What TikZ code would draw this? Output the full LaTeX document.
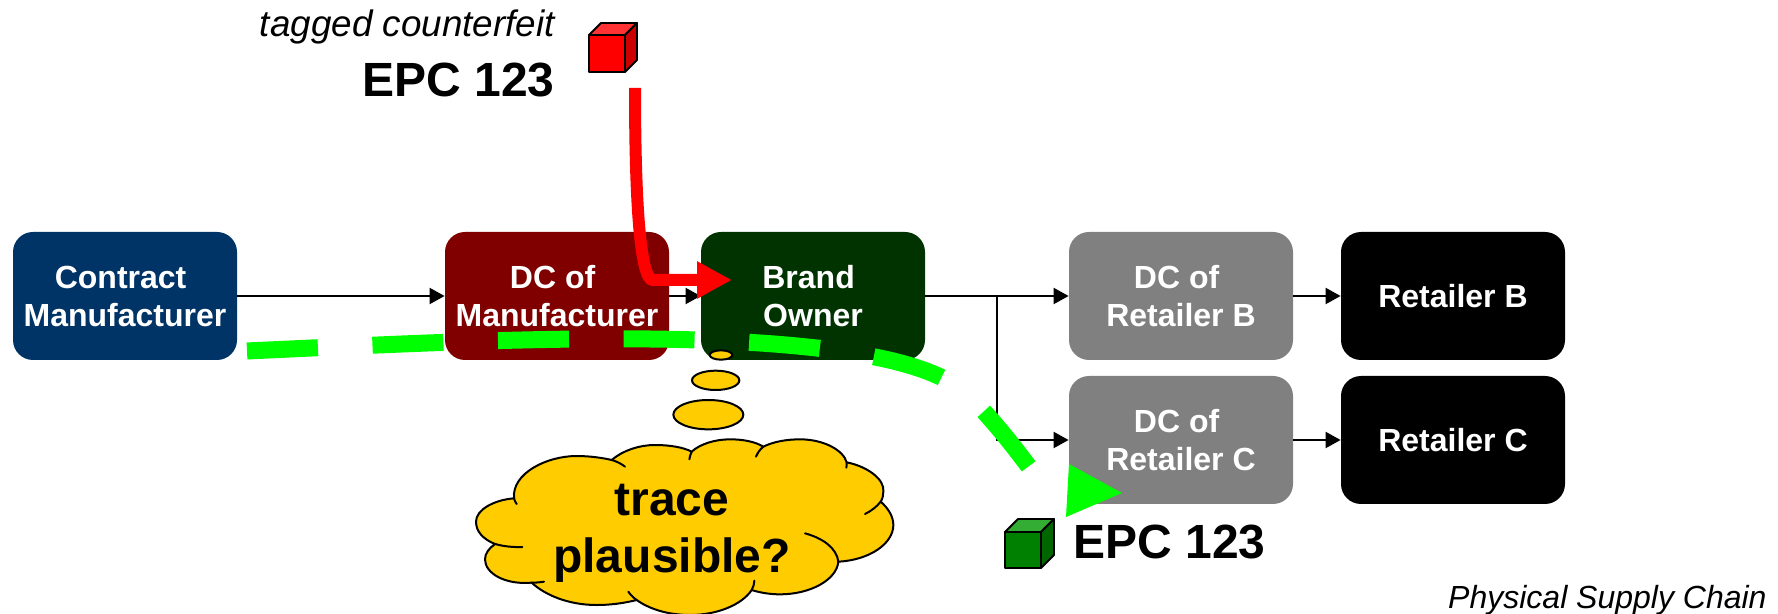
\documentclass[tikz,border=0pt]{standalone}
\usepackage{fontspec}
\setmainfont{Liberation Sans}
\usetikzlibrary{arrows.meta}
\definecolor{cmblue}{HTML}{003366}
\definecolor{dcred}{HTML}{800000}
\definecolor{brandgreen}{HTML}{003300}
\definecolor{greybox}{HTML}{808080}
\definecolor{cloudyellow}{HTML}{FFCC00}
\definecolor{brightgreen}{HTML}{00FF00}
\tikzset{
  chainbox/.style={rounded corners=10pt,inner sep=0pt,minimum width=112pt,minimum height=64pt,align=center,text=white,
    font=\fontsize{16}{19}\selectfont\bfseries},
  flow/.style={draw=black,line width=1pt,-{Triangle[length=7.5pt,width=8pt]}},
  cloudline/.style={draw=black,line width=1pt},
  biglabel/.style={inner sep=0pt,font=\fontsize{24}{28.5}\selectfont\bfseries},
  italabel/.style={inner sep=0pt,font=\fontsize{18.4}{21}\selectfont\itshape},
  cubeline/.style={draw=black,line width=.9pt,line join=round},
  redtrace/.style={draw=red,line width=6pt,-{Triangle[length=17.5pt,width=17.5pt]}},
  greentrace/.style={draw=brightgreen,line width=8.5pt,dash pattern=on 35.5pt off 27.3pt},
}
\begin{document}
\begin{tikzpicture}[x=.5pt,y=-.5pt]
\useasboundingbox (0,0) rectangle (1778,614);
% boxes
\node[chainbox,fill=cmblue] (cm) at (125,296) {Contract\kern4.4pt\\Manufacturer};
\node[chainbox,fill=dcred] (dcm) at (557,296) {DC of\kern4.4pt\\Manufacturer};
\node[chainbox,fill=brandgreen] (brand) at (813,296) {Brand\kern4.4pt\\Owner};
\node[chainbox,fill=greybox] (dcb) at (1181,296) {DC of\kern4.4pt\\Retailer B};
\node[chainbox,fill=greybox] (dcc) at (1181,440) {DC of\kern4.4pt\\Retailer C};
\node[chainbox,fill=black] (rb) at (1453,296) {Retailer B};
\node[chainbox,fill=black] (rc) at (1453,440) {Retailer C};
% connectors
\coordinate (junction) at (997,296);
\draw[flow] (cm) -- (dcm);
\draw[flow] (dcm) -- (brand);
\draw[flow] (brand) -- (dcb);
\draw[flow] (junction) |- (dcc);
\draw[flow] (dcb) -- (rb);
\draw[flow] (dcc) -- (rc);
% labels
\node[italabel,anchor=base east] (tagged) at (555,37) {tagged counterfeit};
\node[biglabel,anchor=base east] (epctop) at (555,97) {EPC 123};
\node[biglabel,anchor=base west] (epcbot) at (1073,559) {EPC 123};
\node[inner sep=0pt,anchor=base east,font=\fontsize{16}{19}\selectfont\itshape] (psc) at (1767,608) {Physical Supply Chain};
% red cube
\begin{scope}[cubeline]
\filldraw[fill=red] (589,35) rectangle (625,72);
\filldraw[fill=red!80!white] (589,35) -- (601,23) -- (637,23) -- (625,35) -- cycle;
\filldraw[fill=red!80!black] (625,35) -- (637,23) -- (637,60) -- (625,72) -- cycle;
% green cube
\filldraw[fill=green!50!black] (1005,532) rectangle (1041,568);
\filldraw[fill=green!60!black!80!white] (1005,532) -- (1018,519) -- (1054,519) -- (1041,532) -- cycle;
\filldraw[fill=green!40!black] (1041,532) -- (1054,519) -- (1054,555) -- (1041,568) -- cycle;
\end{scope}
% thought bubbles and cloud (coordinates of the 3x crop)
\begin{scope}[shift={(440,330)},x=.16667pt,y=-.16667pt]
\filldraw[cloudline,fill=cloudyellow] (843,75) ellipse [x radius=34,y radius=14];
\filldraw[cloudline,fill=cloudyellow] (827,151) ellipse [x radius=71,y radius=29];
\filldraw[cloudline,fill=cloudyellow] (805,254) ellipse [x radius=105,y radius=44];
\filldraw[cloudline,fill=cloudyellow]
  (222,505) .. controls (215,430) and (320,378) .. (410,378)
  .. controls (450,378) and (490,384) .. (515,390)
  .. controls (550,360) and (600,345) .. (645,345)
  .. controls (690,345) and (730,352) .. (755,365)
  .. controls (780,342) and (825,328) .. (870,328)
  .. controls (910,328) and (945,335) .. (970,350)
  .. controls (1000,335) and (1040,328) .. (1080,328)
  .. controls (1150,328) and (1210,360) .. (1220,397)
  .. controls (1285,410) and (1335,450) .. (1330,485)
  .. controls (1330,495) and (1328,505) .. (1322,515)
  .. controls (1345,535) and (1360,560) .. (1360,585)
  .. controls (1360,640) and (1290,690) .. (1195,695)
  .. controls (1190,750) and (1110,793) .. (1020,793)
  .. controls (990,793) and (960,788) .. (935,780)
  .. controls (905,825) and (830,855) .. (750,855)
  .. controls (680,855) and (625,835) .. (590,810)
  .. controls (550,820) and (510,825) .. (470,825)
  .. controls (385,825) and (315,795) .. (275,758)
  .. controls (195,765) and (135,730) .. (135,688)
  .. controls (135,670) and (147,655) .. (165,642)
  .. controls (130,628) and (108,605) .. (108,575)
  .. controls (108,540) and (160,510) .. (222,505) -- cycle;
\draw[cloudline,line cap=round] (222,505) .. controls (223,510) and (226,517) .. (230,522);
\draw[cloudline,line cap=round] (515,390) .. controls (530,394) and (545,402) .. (555,410);
\draw[cloudline,line cap=round] (755,365) .. controls (752,372) and (749,380) .. (748,388);
\draw[cloudline,line cap=round] (970,350) .. controls (960,358) and (953,368) .. (948,380);
\draw[cloudline,line cap=round] (1220,397) .. controls (1220,403) and (1220,408) .. (1219,413);
\draw[cloudline,line cap=round] (1322,515) .. controls (1310,530) and (1295,542) .. (1275,552);
\draw[cloudline,line cap=round] (1195,695) .. controls (1190,655) and (1150,625) .. (1095,610);
\draw[cloudline,line cap=round] (935,780) .. controls (940,770) and (943,762) .. (943,752);
\draw[cloudline,line cap=round] (590,810) .. controls (580,803) and (572,795) .. (565,785);
\draw[cloudline,line cap=round] (275,758) .. controls (288,758) and (300,757) .. (312,755);
\draw[cloudline,line cap=round] (165,642) .. controls (190,649) and (218,652) .. (247,651);
\end{scope}
\node[biglabel,align=center] (cloudtext) at (672,533) {trace\\plausible?};
% traces
\coordinate (redstart) at (635,88);
\coordinate (redtip) at (732,280);
\draw[redtrace] (redstart) .. controls (635,200) and (640,280) .. (653,280) -- (redtip);
\coordinate (greenstart) at (247,351);
\coordinate (greenend) at (1040,482);
\draw[greentrace] (greenstart) .. controls (420,343) and (610,333) .. (760,343)
  .. controls (850,349) and (920,362) .. (955,385) .. controls (975,398) and (1010,440) .. (greenend);
\fill[brightgreen] (1069,464) -- (1122,493) -- (1066,517) -- cycle;
\end{tikzpicture}
\end{document}
